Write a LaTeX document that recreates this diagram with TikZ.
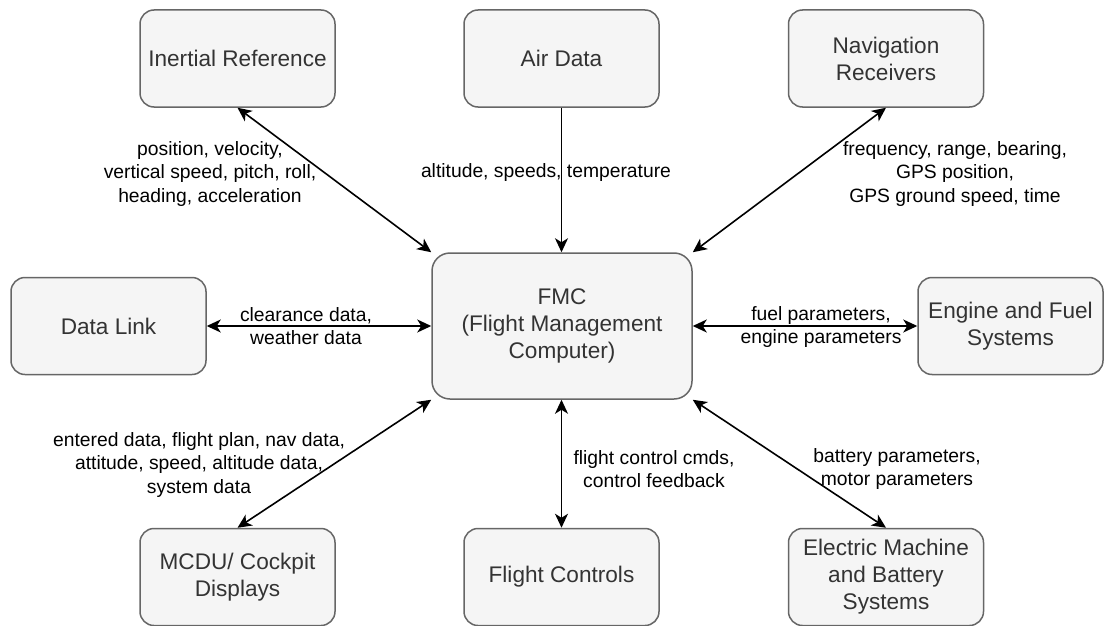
\documentclass[tikz,border=0pt]{standalone}
\usepackage{fontspec}
\setmainfont{Liberation Sans}
\usetikzlibrary{arrows.meta}
\definecolor{boxfill}{HTML}{F5F5F5}
\definecolor{boxline}{HTML}{666666}
\definecolor{boxtext}{HTML}{333333}
\begin{document}
\begin{tikzpicture}[x=1pt,y=-1pt,
  blk/.style={draw=boxline, fill=boxfill, line width=1.5pt, rounded corners=14pt,
    minimum width=195pt, minimum height=97pt, inner sep=0pt, align=center,
    text=boxtext, font=\fontsize{22.6}{27}\selectfont},
  lbl/.style={align=center, text=black, inner sep=0pt, font=\fontsize{19.3}{23.5}\selectfont},
  conn/.style={line width=1.6pt, draw=black},
  >={Stealth[length=14pt,width=13pt,inset=4pt]}
]
\useasboundingbox (0,0) rectangle (1105,626);

% boxes
\node[blk] (inert) at (237.5,58.5) {Inertial Reference};
\node[blk] (air)   at (561.5,58.5) {Air Data};
\node[blk] (nav)   at (886,58.5)   {Navigation\\Receivers};
\node[blk] (dlink) at (108.5,326)  {Data Link};
\node[blk, minimum width=260pt, minimum height=146pt, rounded corners=18pt] (fmc) at (562,326)
  {FMC\\(Flight Management\\Computer)};
\node[blk, minimum width=185pt] (eng) at (1010.5,326) {Engine and Fuel\\Systems};
\node[blk] (mcdu)  at (237.5,577)  {MCDU/ Cockpit\\Displays};
\node[blk] (fctl)  at (561.5,577)  {Flight Controls};
\node[blk] (elec)  at (886,577)    {Electric Machine\\and Battery\\Systems};

% connectors
\draw[conn,<->] (inert.south) -- (fmc.north west);
\draw[conn,->]  (air.south) -- (air.south |- fmc.north);
\draw[conn,<->] (nav.south) -- (fmc.north east);
\draw[conn,<->] (dlink.east) -- (fmc.west);
\draw[conn,<->] (fmc.east) -- (eng.west);
\draw[conn,<->] (mcdu.north) -- (fmc.south west);
\draw[conn,<->] (fctl.north |- fmc.south) -- (fctl.north);
\draw[conn,<->] (fmc.south east) -- (elec.north);

% labels
\node[lbl] (l1) at (210,174) {position, velocity,\\vertical speed, pitch, roll,\\heading, acceleration};
\node[lbl] (l2) at (546,173) {altitude, speeds, temperature};
\node[lbl] (l3) at (955,174) {frequency, range, bearing,\\GPS position,\\GPS ground speed, time};
\node[lbl] (l4) at (306,326) {clearance data,\\weather data};
\node[lbl] (l5) at (821,327) {fuel parameters,\\engine parameters};
\node[lbl] (l6) at (199,465) {entered data, flight plan, nav data,\\attitude, speed, altitude data,\\system data};
\node[lbl] (l7) at (654,469) {flight control cmds,\\control feedback};
\node[lbl] (l8) at (897,469) {battery parameters,\\motor parameters};
\end{tikzpicture}
\end{document}
